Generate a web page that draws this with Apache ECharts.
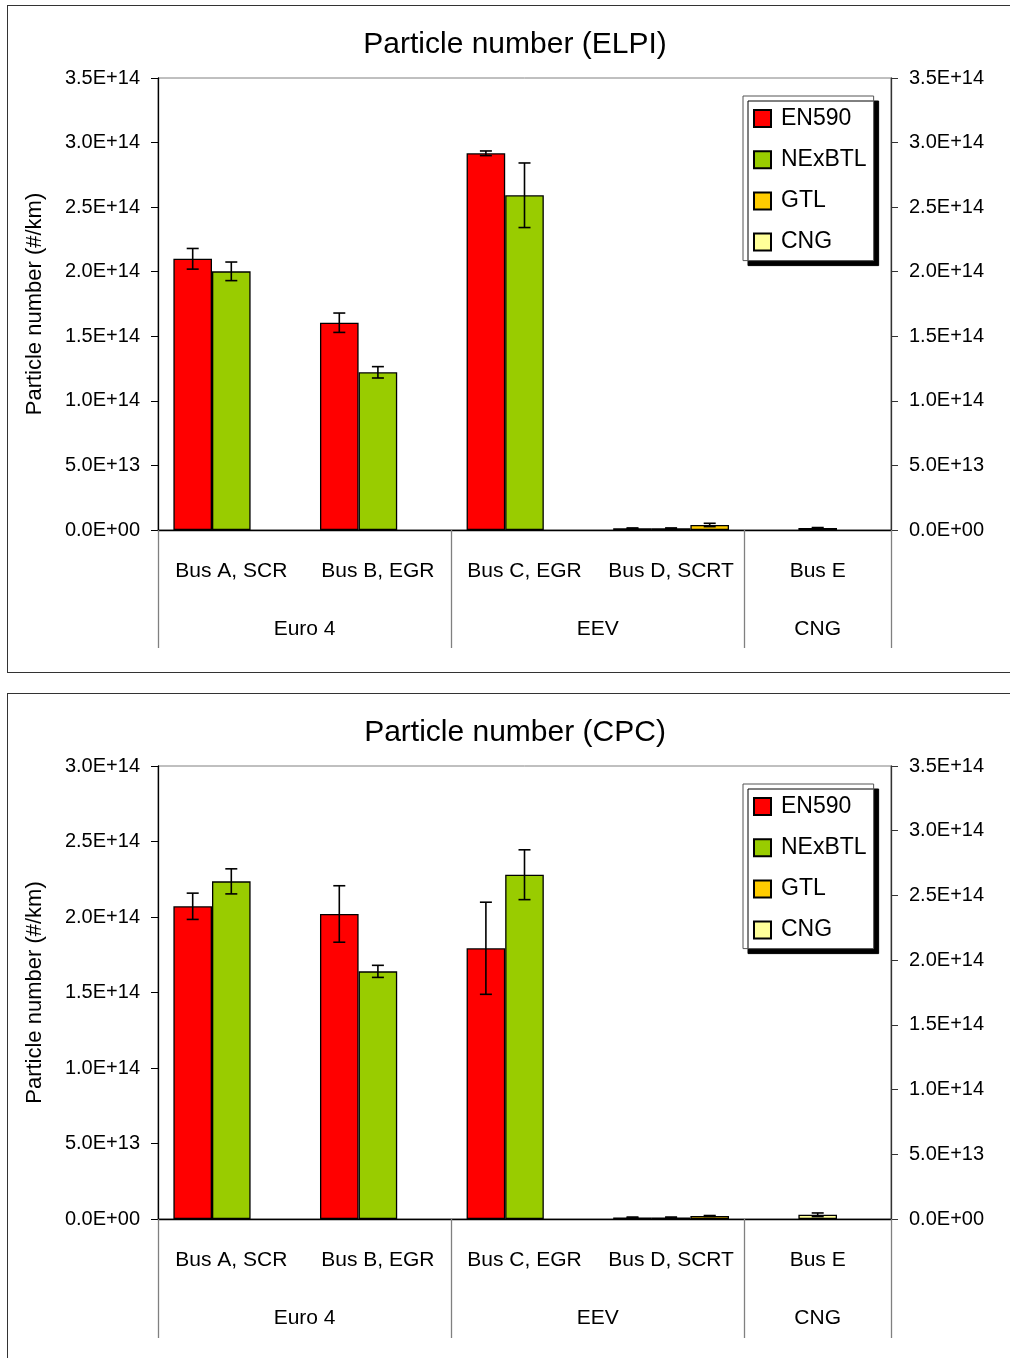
<!DOCTYPE html>
<html>
<head>
<meta charset="utf-8">
<title>Particle number (ELPI / CPC)</title>
<script src="https://cdn.jsdelivr.net/npm/echarts@6/dist/echarts.min.js"></script>
<style>
  html, body { margin: 0; padding: 0; background: #fff; width: 1010px; height: 1358px; overflow: hidden; }
  .panel { position: absolute; left: 0; width: 1010px; }
  .frame { position: absolute; left: 7px; width: 1020px; border: 1.5px solid #333; pointer-events: none; z-index: 5; }
</style>
</head>
<body>
<div id="elpi" class="panel" style="top:0;height:680px"></div>
<div id="cpc" class="panel" style="top:686px;height:672px"></div>
<div class="frame" style="top:5px;height:666px"></div>
<div class="frame" style="top:693px;height:700px"></div>
<script>
// ---- categories and tick labels ----
const busLabels = ['Bus A, SCR', 'Bus B, EGR', 'Bus C, EGR', 'Bus D, SCRT', 'Bus E'];
const groupNames = ['Euro 4', 'EEV', 'CNG'];
const groupSpans = [2, 2, 1];
const fuels = ['EN590', 'NExBTL', 'GTL', 'CNG'];

// ---- ELPI particle number (#/km) and error bar half-widths ----
const elpiEN590 = [2.10e14, 1.605e14, 2.917e14, 1.3e12, null];
const elpiEN590Err = [0.08e14, 0.075e14, 0.018e14, 0.3e12, null];
const elpiNExBTL = [2.003e14, 1.221e14, 2.592e14, 1.3e12, null];
const elpiNExBTLErr = [0.072e14, 0.044e14, 0.25e14, 0.3e12, null];
const elpiGTL = [null, null, null, 3.9e12, null];
const elpiGTLErr = [null, null, null, 1.3e12, null];
const elpiCNG = [null, null, null, null, 1.5e12];
const elpiCNGErr = [null, null, null, null, 0.4e12];

// ---- CPC particle number (#/km) and error bar half-widths ----
const cpcEN590 = [2.071e14, 2.020e14, 1.793e14, 1.0e12, null];
const cpcEN590Err = [0.087e14, 0.187e14, 0.305e14, 0.3e12, null];
const cpcNExBTL = [2.236e14, 1.640e14, 2.280e14, 1.0e12, null];
const cpcNExBTLErr = [0.083e14, 0.04e14, 0.165e14, 0.3e12, null];
const cpcGTL = [null, null, null, 2.0e12, null];
const cpcGTLErr = [null, null, null, 0.3e12, null];
const cpcCNG = [null, null, null, null, 2.8e12];
const cpcCNGErr = [null, null, null, null, 1.2e12];

// ---- styling ----
const FONT = "'Liberation Sans', Arial, sans-serif";
const fuelColors = ['#FF0000', '#99CC00', '#FFCC00', '#FFFF99'];
// CNG shares the middle slot with NExBTL (stacked), so each bus has 3 bar slots
const fuelSlots = [0, 1, 2, 1];
const fuelStacks = [null, 'mid', null, 'mid'];
const CAT_GAP = 0.21;

function sciLabel(v) {
  return v.toExponential(1).replace(/e\+(\d)$/, 'e+0$1').toUpperCase();
}

// positions of group separators and group label centres on a 0..N scale
const groupEdges = [0];
const groupCentres = [];
groupSpans.forEach(s => {
  const start = groupEdges[groupEdges.length - 1];
  groupCentres.push(start + s / 2);
  groupEdges.push(start + s);
});

function errorRenderer(slot) {
  return function (params, api) {
    const i = api.value(0), v = api.value(1), e = api.value(2);
    const band = api.size([1, 0])[0];
    const bw = band * (1 - CAT_GAP) / 3;
    const cx = api.coord([i, v])[0] + (slot - 1) * bw;
    const yTop = api.coord([i, v + e])[1];
    const yBot = api.coord([i, v - e])[1];
    const style = { stroke: '#000', lineWidth: 1.6 };
    return {
      type: 'group',
      children: [
        { type: 'line', shape: { x1: cx, y1: yTop, x2: cx, y2: yBot }, style },
        { type: 'line', shape: { x1: cx - 6, y1: yTop, x2: cx + 6, y2: yTop }, style },
        { type: 'line', shape: { x1: cx - 6, y1: yBot, x2: cx + 6, y2: yBot }, style }
      ]
    };
  };
}

function buildChart(domId, cfg) {
  const chart = echarts.init(document.getElementById(domId));
  const barSeries = fuels.map((f, k) => {
    const s = {
      type: 'bar',
      name: f,
      data: cfg.values[k],
      barGap: '0%',
      barCategoryGap: (CAT_GAP * 100) + '%',
      itemStyle: { color: fuelColors[k], borderColor: '#000', borderWidth: 1.3 },
      emphasis: { disabled: true },
      z: 2
    };
    if (fuelStacks[k]) s.stack = fuelStacks[k];
    return s;
  });
  const errSeries = fuels.map((f, k) => ({
    type: 'custom',
    name: f + ' ±',
    renderItem: errorRenderer(fuelSlots[k]),
    data: cfg.values[k]
      .map((v, i) => (v == null ? null : [i, v, cfg.errors[k][i]]))
      .filter(d => d !== null),
    z: 5,
    silent: true
  }));

  chart.setOption({
    animation: false,
    textStyle: { fontFamily: FONT },
    graphic: [{
      type: 'text',
      x: 515,
      y: cfg.titleY,
      style: {
        text: cfg.title,
        fontSize: 30,
        fontFamily: FONT,
        fill: '#000',
        align: 'center',
        verticalAlign: 'middle'
      }
    }],
    grid: {
      left: 158, width: 733, top: cfg.gridTop, height: cfg.gridHeight,
      show: true, borderColor: '#808080', borderWidth: 1, backgroundColor: 'transparent'
    },
    legend: {
      data: fuels,
      orient: 'vertical',
      left: 743,
      top: cfg.legendTop,
      padding: [11, 7, 7, 10],
      itemWidth: 17,
      itemHeight: 17,
      itemGap: 18.2,
      icon: 'rect',
      selectedMode: false,
      backgroundColor: '#fff',
      borderColor: '#555',
      borderWidth: 1,
      shadowColor: '#000',
      shadowBlur: 0,
      shadowOffsetX: 5,
      shadowOffsetY: 5,
      textStyle: { fontSize: 23, color: '#000', fontFamily: FONT, padding: [0, 0, 0, 5] }
    },
    xAxis: [{
      type: 'category',
      data: busLabels,
      axisLine: { show: true, lineStyle: { color: '#000', width: 1.3 } },
      axisTick: { show: false },
      axisLabel: { interval: 0, margin: 31, fontSize: 21, color: '#000' },
      splitLine: { show: false }
    }, {
      type: 'value',
      position: 'bottom',
      min: 0,
      max: busLabels.length,
      axisLine: { show: false },
      axisTick: {
        show: true, customValues: groupEdges, length: cfg.sepLength,
        lineStyle: { color: '#808080', width: 1.3 }
      },
      axisLabel: {
        customValues: groupCentres,
        margin: 89,
        fontSize: 21,
        color: '#000',
        formatter: v => groupNames[groupCentres.indexOf(v)] || ''
      },
      splitLine: { show: false }
    }],
    yAxis: [{
      type: 'value',
      position: 'left',
      min: 0,
      max: cfg.leftMax,
      interval: 5e13,
      name: 'Particle number (#/km)',
      nameLocation: 'middle',
      nameGap: 112,
      nameTextStyle: { fontSize: 22, color: '#000', fontFamily: FONT },
      axisLine: { show: true, lineStyle: { color: '#000', width: 1.3 } },
      axisTick: { show: true, length: 7, lineStyle: { color: '#000' } },
      axisLabel: { formatter: sciLabel, margin: 18, fontSize: 20, color: '#000' },
      splitLine: { show: false }
    }, {
      type: 'value',
      position: 'right',
      min: 0,
      max: 3.5e14,
      interval: 5e13,
      alignTicks: false,
      axisLine: { show: true, lineStyle: { color: '#333', width: 1.3 } },
      axisTick: { show: true, length: 7, lineStyle: { color: '#333' } },
      axisLabel: { formatter: sciLabel, margin: 18, fontSize: 20, color: '#000' },
      splitLine: { show: false }
    }],
    series: barSeries.concat(errSeries)
  });
  return chart;
}

buildChart('elpi', {
  title: 'Particle number (ELPI)',
  titleY: 45,
  gridTop: 78,
  gridHeight: 452,
  legendTop: 96,
  sepLength: 118,
  leftMax: 3.5e14,
  values: [elpiEN590, elpiNExBTL, elpiGTL, elpiCNG],
  errors: [elpiEN590Err, elpiNExBTLErr, elpiGTLErr, elpiCNGErr]
});

buildChart('cpc', {
  title: 'Particle number (CPC)',
  titleY: 47,
  gridTop: 80,
  gridHeight: 453,
  legendTop: 98,
  sepLength: 119,
  leftMax: 3.0e14,
  values: [cpcEN590, cpcNExBTL, cpcGTL, cpcCNG],
  errors: [cpcEN590Err, cpcNExBTLErr, cpcGTLErr, cpcCNGErr]
});
</script>
</body>
</html>
